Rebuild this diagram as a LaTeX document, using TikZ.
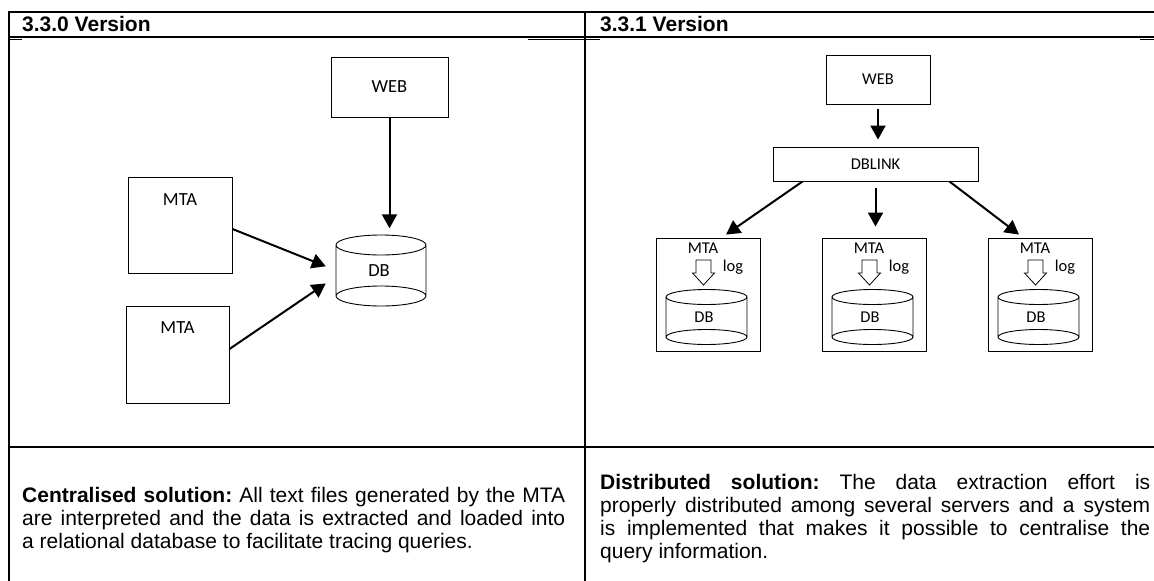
\documentclass[tikz,border=0pt]{standalone}
\usepackage{fontspec}
\setmainfont{Liberation Sans}
\newfontfamily\labelfont{Carlito}
\usetikzlibrary{positioning, arrows.meta}

\tikzset{
  box/.style={draw, line width=0.9pt, inner sep=0pt},
  arr/.style={-{Triangle[length=14pt,width=15pt]}, line width=2pt},
  rule/.style={line width=1.2pt},
  lbl/.style={font=\labelfont\fontsize{18.5}{21}\selectfont, inner sep=0pt},
  lblsmall/.style={font=\labelfont\fontsize{16.5}{19}\selectfont, inner sep=0pt},
  head/.style={anchor=west, inner sep=0pt, font=\fontsize{21}{23}\selectfont\bfseries},
  note/.style={anchor=west, inner sep=0pt, align=justify, font=\fontsize{21}{23}\selectfont\frenchspacing}
}

\begin{document}
\begin{tikzpicture}[x=1pt, y=-1pt]
    \useasboundingbox (0,0) rectangle (1154,581);

    % Table lines
    \draw[line width=2pt] (8,12) -- (1154,12);
    \draw[rule] (8,37) -- (1154,37);
    \draw[rule] (8,39.5) -- (22,39.5) (528,39.5) -- (600,39.5) (1140,39.5) -- (1154,39.5);
    \draw[rule] (8,447) -- (1154,447);
    \draw[line width=2pt] (9,11) -- (9,581);
    \draw[line width=2pt] (585,11) -- (585,581);

    % Headers
    \node[head] (head0) at (22,24) {3.3.0 Version};
    \node[head] (head1) at (600,24) {3.3.1 Version};

    % Left: centralised
    \node[box, lbl, minimum width=117pt, minimum height=60pt] (web0) at (389.5,87) {WEB};
    \node[box, minimum width=104pt, minimum height=96pt] (mtaA) at (180,225) {};
    \node[lbl, below=17pt of mtaA.north] (mtaAtxt) {MTA};
    \node[box, minimum width=103pt, minimum height=97pt] (mtaB) at (177.5,354.5) {};
    \node[lbl, below=16pt of mtaB.north] (mtaBtxt) {MTA};
    \node[lbl, minimum width=90pt, minimum height=71pt] (db0) at (379,271) {DB};
    \draw[line width=0.9pt] (381,245) ellipse [x radius=45pt, y radius=10pt]
        (381,296) ellipse [x radius=45pt, y radius=10pt]
        (336,245) -- (336,296) (426,245) -- (426,296);

    \draw[arr, shorten >=7pt] (web0.south) -- (web0.south |- db0.north);
    \draw[arr, shorten >=8.6pt] ([yshift=-4pt]mtaA.east) -- ([yshift=1.5pt]db0.west);
    \draw[arr, shorten >=9.7pt] ([yshift=5.5pt]mtaB.east) -- ([yshift=-7pt]db0.west);

    % Right: distributed
    \node[box, lblsmall, minimum width=104pt, minimum height=49pt] (web1) at (878,79.5) {WEB};
    \node[box, lblsmall, minimum width=205pt, minimum height=34pt] (dblink) at (875.5,164) {DBLINK};

    \foreach \i/\x in {1/656, 2/822, 3/988} {
      \node[box, minimum width=104pt, minimum height=113pt] (srv\i) at ({\x+52},294.5) {};
      \node[lblsmall] (mta\i) at ({\x+47},248) {MTA};
      \node[lblsmall] (log\i) at ({\x+77},267) {log};
      % block arrow MTA -> DB
      \draw[line width=0.8pt] ({\x+40},260) -- ({\x+55},260) -- ({\x+55},273) -- ({\x+58.5},273)
          -- ({\x+47.5},285) -- ({\x+36.5},273) -- ({\x+40},273) -- cycle;
      % database
      \draw[line width=0.9pt] ({\x+50.5},297) ellipse [x radius=40.5pt, y radius=7.5pt]
          ({\x+50.5},337) ellipse [x radius=40.5pt, y radius=7.5pt]
          ({\x+10},297) -- ({\x+10},337) ({\x+91},297) -- ({\x+91},337);
      \node[lblsmall] (db\i) at ({\x+48},317) {DB};
    }

    \draw[arr, shorten <=5pt, shorten >=7pt] (web1.south) -- (web1.south |- dblink.north);
    \draw[arr] ([xshift=30pt]dblink.south west) -- ([xshift=18pt,yshift=3pt]srv1.north);
    \draw[arr, shorten <=7pt, shorten >=11pt] (dblink.south) -- (dblink.south |- srv2.north);
    \draw[arr] ([xshift=-29pt]dblink.south east) -- ([xshift=-21pt,yshift=3pt]srv3.north);

    % Notes
    \node[note, text width=543pt] (note0) at (22,520)
      {\textbf{Centralised solution:} All text files generated by the MTA\linebreak
       are interpreted and the data is extracted and loaded into\linebreak
       a relational database to facilitate tracing queries.};
    \node[note, text width=550pt] (note1) at (600,518.5)
      {\textbf{Distributed solution:} The data extraction effort is\linebreak
       properly distributed among several servers and a system\linebreak
       is implemented that makes it possible to centralise the\linebreak
       query information.};

  \end{tikzpicture}
\end{document}
